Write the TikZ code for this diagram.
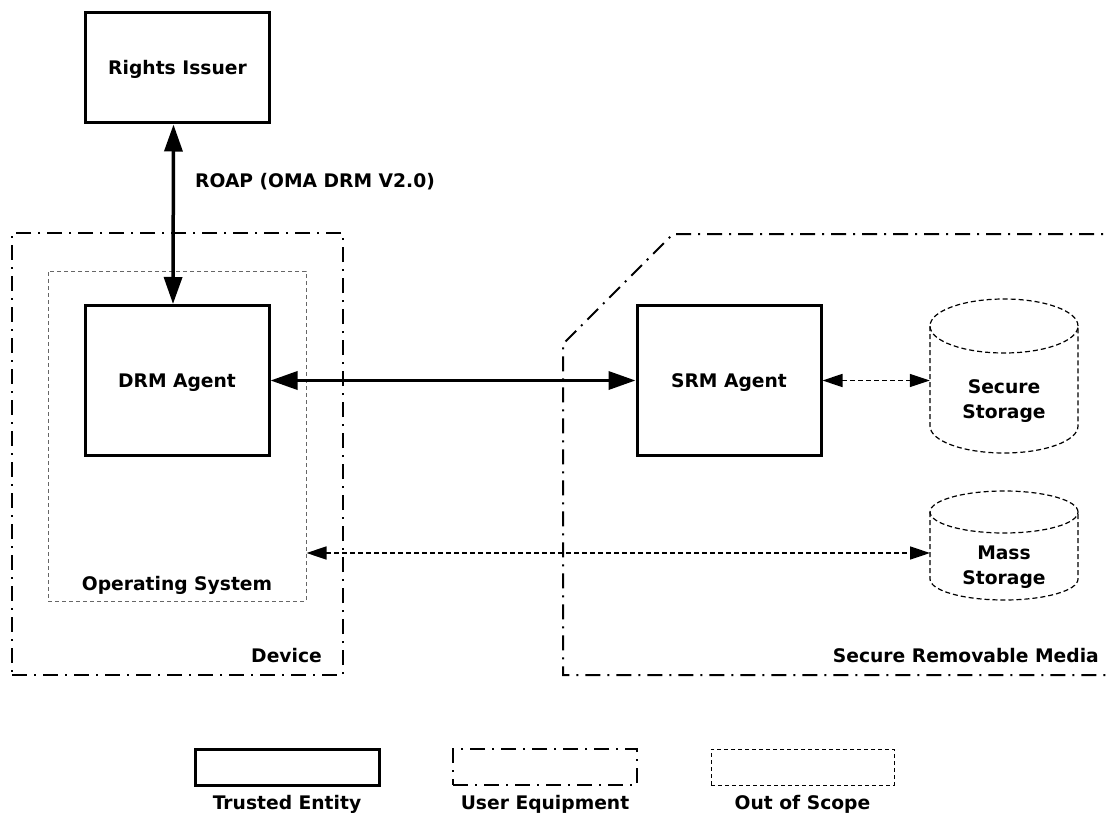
\documentclass[tikz,border=0pt]{standalone}
\usepackage{fontspec}
\setmainfont{DejaVu Sans}
\usetikzlibrary{arrows.meta}
\begin{document}
\begin{tikzpicture}[x=1pt,y=-1pt,
  lbl/.style={font=\fontsize{18.7}{25}\selectfont\bfseries, inner sep=0pt},
  trusted/.style={draw, line width=3pt, minimum width=184pt, minimum height=150pt, inner sep=0pt, text height=13.6pt, text depth=0pt, lbl},
  ue/.style={draw, line width=2pt, dash pattern=on 15pt off 7pt on 2pt off 7pt},
  oos/.style={draw, line width=1pt, dash pattern=on 4pt off 3pt},
  osbox/.style={oos, draw=black!60},
  cyl/.style={line width=1.2pt, dash pattern=on 5pt off 3pt},
  bigarrow/.style={line width=3.5pt, {Triangle[length=27pt,width=18pt]}-{Triangle[length=27pt,width=18pt]}},
  dasharrow/.style={line width=1.5pt, dash pattern=on 5pt off 3pt, {Triangle[length=20pt,width=13pt]}-{Triangle[length=20pt,width=13pt]}}
]
\useasboundingbox (0,0) rectangle (1110,813);

% Device and Operating System
\node[ue, minimum width=331pt, minimum height=442pt, inner sep=0pt] (dev) at (177.5,454) {};
\node[osbox, minimum width=258pt, minimum height=330pt, inner sep=0pt] (os) at (177,436) {};
\node[lbl, anchor=base] (oslbl) at (177,590) {Operating System};
\node[lbl, anchor=base east] (devlbl) at (322,662) {Device};

% Secure Removable Media outline
\draw[ue] (1125,234) -- (673,234) -- (563,344) -- (563,675) -- (1125,675);
\node[lbl, anchor=base east] (srmlbl) at (1099,662) {Secure Removable Media};

% Trusted entities
\node[trusted, minimum height=110pt] (ri) at (177.5,68) {Rights Issuer};
\node[trusted] (drm) at (177,380.5) {DRM Agent};
\node[trusted] (srm) at (729,380.5) {SRM Agent};

% Secure Storage cylinder
\node[minimum width=148pt, minimum height=154pt, inner sep=0pt] (ss) at (1004,376) {};
\draw[cyl] (930,326) -- (930,426) arc[start angle=180, end angle=360, x radius=74pt, y radius=27pt] -- (1078,326);
\draw[cyl] (1004,326) ellipse [x radius=74pt, y radius=27pt];
\node[lbl, align=center] (sslbl) at (1004,401) {Secure\\Storage};

% Mass Storage cylinder
\node[minimum width=148pt, minimum height=109pt, inner sep=0pt] (ms) at (1004,545.5) {};
\draw[cyl] (930,512) -- (930,579) arc[start angle=180, end angle=360, x radius=74pt, y radius=21pt] -- (1078,512);
\draw[cyl] (1004,512) ellipse [x radius=74pt, y radius=21pt];
\node[lbl, align=center] (mslbl) at (1004,567) {Mass\\Storage};
\coordinate (m1) at (930,553);

% Connectors
\draw[bigarrow] ([xshift=-4pt]ri.south) -- ([xshift=-4pt]drm.north);
\node[lbl, anchor=base west] (roap) at (195,187) {ROAP (OMA DRM V2.0)};
\draw[bigarrow] (drm.east) -- (srm.west);
\draw[dasharrow] (srm.east) -- (srm.east -| ss.west);
\draw[dasharrow] (os.east |- m1) -- (m1);

% Legend
\node[trusted, minimum height=36pt] (lt) at (287,767) {};
\node[lbl, anchor=base] (ltl) at (287,809) {Trusted Entity};
\node[ue, minimum width=184pt, minimum height=36pt, inner sep=0pt] (lu) at (545,767) {};
\node[lbl, anchor=base] (lul) at (545,809) {User Equipment};
\node[oos, minimum width=183pt, minimum height=36pt, inner sep=0pt] (lo) at (802.5,767) {};
\node[lbl, anchor=base] (lol) at (802.5,809) {Out of Scope};
\end{tikzpicture}
\end{document}
